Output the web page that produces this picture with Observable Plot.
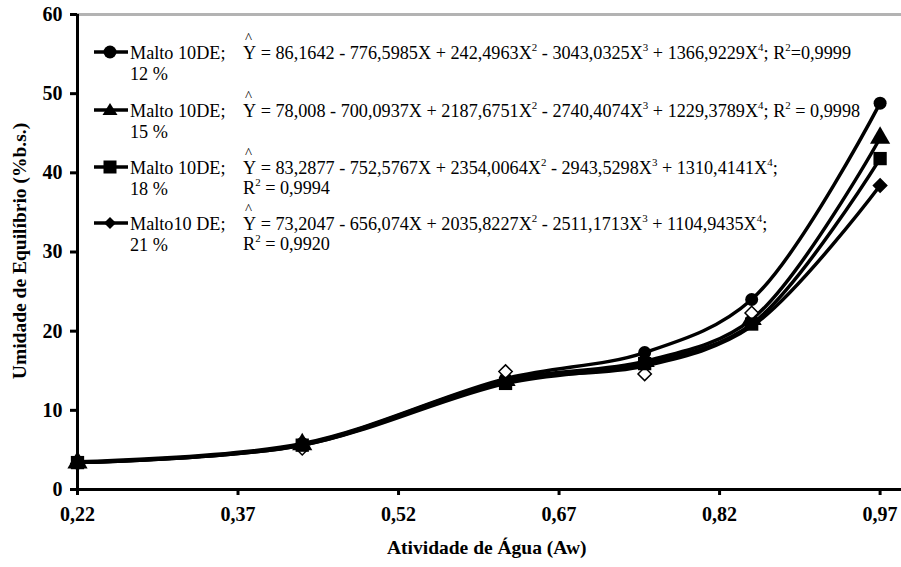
<!DOCTYPE html>
<html><head><meta charset="utf-8">
<script src="https://cdn.jsdelivr.net/npm/d3@7"></script>
<script src="https://cdn.jsdelivr.net/npm/@observablehq/plot@0.6"></script>
<style>
body{margin:0;background:#fff;}
#wrap{position:relative;width:901px;height:567px;font-family:"Liberation Serif","Times New Roman",serif;color:#000;}
.t{position:absolute;white-space:nowrap;font-size:18.2px;line-height:20px;color:#000;}
.t sup{font-size:0.6em;vertical-align:0.7em;line-height:0;}
.hat{position:relative;display:inline-block;}
.hat::before{content:"^";position:absolute;left:2px;top:-15px;font-size:15px;}
.b{font-weight:bold;font-size:19.5px;}
</style></head><body><div id="wrap"></div>
<script>
// ---- data ----
const aw = [0.22, 0.43, 0.62, 0.75, 0.85, 0.97];
const umid12 = [3.5, 5.8, 14.0, 17.3, 24.0, 48.8];
const umid15 = [3.4, 5.7, 13.8, 16.2, 21.5, 44.4];
const umid18 = [3.4, 5.6, 13.4, 15.9, 20.9, 41.8];
const umid21 = [3.3, 5.2, 14.9, 14.6, 22.3, 38.4];      // observed (markers)
const curve21 = [3.4, 5.6, 13.7, 15.6, 20.6, 38.4];     // fitted line
const seriesLine1 = ["Malto 10DE;", "Malto 10DE;", "Malto 10DE;", "Malto10 DE;"];
const seriesLine2 = ["12 %", "15 %", "18 %", "21 %"];
const eqMain = [
  " = 86,1642 - 776,5985X + 242,4963X<sup>2</sup> - 3043,0325X<sup>3</sup> + 1366,9229X<sup>4</sup>; R<sup>2</sup>=0,9999",
  " = 78,008 - 700,0937X + 2187,6751X<sup>2</sup> - 2740,4074X<sup>3</sup> + 1229,3789X<sup>4</sup>; R<sup>2</sup> = 0,9998",
  " = 83,2877 - 752,5767X + 2354,0064X<sup>2</sup> - 2943,5298X<sup>3</sup> + 1310,4141X<sup>4</sup>;",
  " = 73,2047 - 656,074X + 2035,8227X<sup>2</sup> - 2511,1713X<sup>3</sup> + 1104,9435X<sup>4</sup>;"
];
const eqR2 = ["", "", "R<sup>2</sup> = 0,9994", "R<sup>2</sup> = 0,9920"];
const xTicks = [0.22, 0.37, 0.52, 0.67, 0.82, 0.97];
const yTicks = [0, 10, 20, 30, 40, 50, 60];
const xTitle = "Atividade de Água (Aw)";
const yTitle = "Umidade de Equilíbrio (%b.s.)";

// ---- build ----
const markerVals = [umid12, umid15, umid18, umid21];
const lineVals = [umid12, umid15, umid18, curve21];
const symbols = ["circle", "triangle", "square", "diamond2"];
const radii = [6.5, 7.5, 7.5, 6];
const toRows = (vals, k) => vals.map((v, i) => ({aw: aw[i], u: v, k, i}));

const marks = [
  Plot.ruleY([60], {stroke: "#b3b3b3", strokeWidth: 3}),
  Plot.axisY({ticks: yTicks, tickSize: 7, tickPadding: 8, strokeWidth: 3, label: null, fontSize: 20, fontWeight: "bold"}),
  Plot.axisX({ticks: xTicks, tickSize: 6, tickPadding: 11, strokeWidth: 3, label: null, fontSize: 20, fontWeight: "bold",
    tickFormat: d => d.toFixed(2).replace(".", ",")}),
  Plot.ruleX([0.22], {strokeWidth: 3}),
  Plot.ruleY([0], {strokeWidth: 3})
];
[3, 2, 1, 0].forEach(k => marks.push(Plot.line(toRows(lineVals[k], k), {x: "aw", y: "u", curve: "catmull-rom", stroke: "#000", strokeWidth: 3.5})));
[0, 1, 3, 2].forEach(k => {
  marks.push(Plot.dot(toRows(markerVals[k], k), {x: "aw", y: "u", symbol: () => symbols[k], r: radii[k],
    fill: k === 3 ? (p => p.i === 0 || p.i === aw.length - 1 ? "#000" : "#fff") : "#000",
    stroke: "#000", strokeWidth: k === 3 ? 1.5 : 0}));
});

const chart = Plot.plot({
  width: 901, height: 567,
  marginLeft: 77, marginRight: 0, marginTop: 14, marginBottom: 78,
  style: {fontFamily: "Liberation Serif, Times New Roman, serif", color: "#000", background: "#fff", overflow: "visible"},
  x: {domain: [0.22, 0.99]},
  y: {domain: [0, 60]},
  symbol: {type: "identity"},
  marks
});
const wrap = document.getElementById("wrap");
wrap.appendChild(chart);

function addText(html, left, cy, cls) {
  const el = document.createElement("div");
  el.className = "t" + (cls ? " " + cls : "");
  el.innerHTML = html;
  el.style.left = left + "px";
  el.style.top = (cy - 10) + "px";
  wrap.appendChild(el);
  return el;
}
// legend + equations
const rowY = [52, 110, 167, 223];
const legSym = {
  circle: '<circle cx="16" cy="8" r="6.5"/>',
  triangle: '<path d="M16,1 L23.5,13 L8.5,13 Z"/>',
  square: '<rect x="9.5" y="1.5" width="13" height="13"/>',
  diamond2: '<path d="M16,2 L22,8 L16,14 L10,8 Z"/>'
};
rowY.forEach((y, k) => {
  const s = document.createElementNS("http://www.w3.org/2000/svg", "svg");
  s.setAttribute("width", 34); s.setAttribute("height", 16);
  s.style.position = "absolute"; s.style.left = "94px"; s.style.top = (y - 8) + "px";
  s.innerHTML = '<line x1="0" x2="34" y1="8" y2="8" stroke="#000" stroke-width="3.5"/>' + legSym[symbols[k]];
  wrap.appendChild(s);
  addText(seriesLine1[k], 130, y + 1);
  addText(seriesLine2[k], 130, y + 22);
  addText('<span class="hat">Y</span>' + eqMain[k], 243, y + 1);
  if (eqR2[k]) addText(eqR2[k], 243, y + 21);
});
// axis titles
const xt = addText(xTitle, 0, 548, "b");
xt.style.left = (487 - xt.offsetWidth / 2) + "px";
const yt = addText(yTitle, 0, 0, "b");
yt.style.left = (20 - yt.offsetWidth / 2) + "px";
yt.style.top = (251 - 10) + "px";
yt.style.transform = "rotate(-90deg)";
</script></body></html>
